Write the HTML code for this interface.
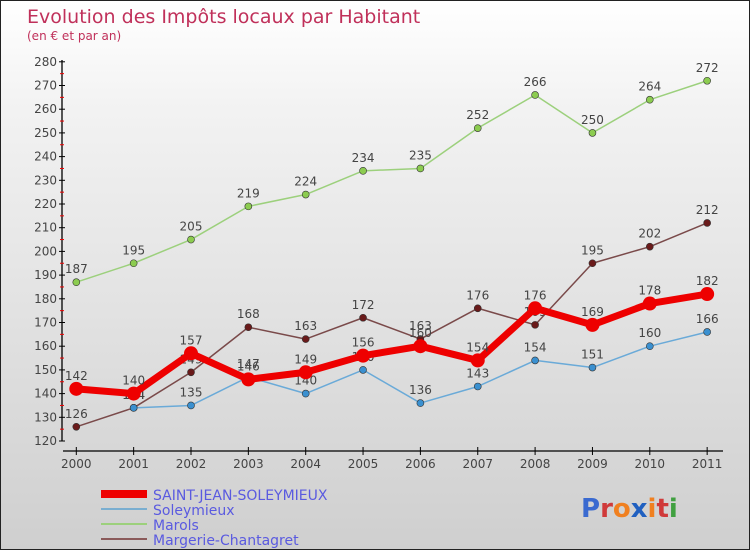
<!DOCTYPE html>
<html><head><meta charset="utf-8"><style>
body{margin:0}
#c{width:750px;height:550px;position:relative;overflow:hidden;box-sizing:border-box;border:1px solid #222;background:linear-gradient(#ffffff,#f2f2f2 20%,#cfcfcf);font-family:"DejaVu Sans","Liberation Sans",sans-serif}
svg text{font-family:"DejaVu Sans","Liberation Sans",sans-serif}
</style></head><body>
<div id="c">
<svg id="s" width="750" height="550">
<text x="26" y="22" font-size="19" fill="#c0305a">Evolution des Impôts locaux par Habitant</text>
<text x="26" y="39" font-size="12" fill="#c0305a">(en € et par an)</text>
<g id="axes"></g><g id="series"></g>
<g>
<line x1="100" y1="493" x2="146" y2="493" stroke="#e00" stroke-width="8"/>
<text x="152" y="499" font-size="14" fill="#5a5ae0">SAINT-JEAN-SOLEYMIEUX</text>
<line x1="100" y1="508" x2="146" y2="508" stroke="#7aaed0" stroke-width="2"/>
<text x="152" y="514" font-size="14" fill="#5a5ae0">Soleymieux</text>
<line x1="100" y1="523" x2="146" y2="523" stroke="#9cd07c" stroke-width="2"/>
<text x="152" y="529" font-size="14" fill="#5a5ae0">Marols</text>
<line x1="100" y1="538" x2="146" y2="538" stroke="#8a5a5a" stroke-width="2"/>
<text x="152" y="544" font-size="14" fill="#5a5ae0">Margerie-Chantagret</text>
</g>
<g font-size="26" font-weight="bold">
<text x="580" y="516"><tspan fill="#3a6ad0">P</tspan><tspan fill="#d03a3a">r</tspan><tspan fill="#f08020">o</tspan><tspan fill="#2060c0">x</tspan><tspan fill="#f08020">i</tspan><tspan fill="#d03a3a">t</tspan><tspan fill="#40a040">i</tspan></text>
</g>
</svg>
</div>
<script>
const years=[2000,2001,2002,2003,2004,2005,2006,2007,2008,2009,2010,2011];
const yTicks=[120,130,140,150,160,170,180,190,200,210,220,230,240,250,260,270,280];
const saintJean=[142,140,157,146,149,156,160,154,176,169,178,182];
const soleymieux=[null,134,135,147,140,150,136,143,154,151,160,166];
const marols=[187,195,205,219,224,234,235,252,266,250,264,272];
const margerie=[126,134,149,168,163,172,163,176,169,195,202,212];
const NS="http://www.w3.org/2000/svg";
function x(i){return 75.3+i*57.35;}
function y(v){return 440-(v-120)*2.37;}
function mk(t,a,p){const e=document.createElementNS(NS,t);for(const k in a)e.setAttribute(k,a[k]);p.appendChild(e);return e;}
const ax=document.getElementById('axes');
let e=mk('line',{x1:61,y1:59,x2:61,y2:440,stroke:'#000','stroke-width':1.3},ax);


e=mk('line',{x1:62,y1:450,x2:722,y2:450,stroke:'#000','stroke-width':1.3},ax);


yTicks.forEach((v,i)=>{
 mk('line',{x1:58,y1:y(v),x2:64,y2:y(v),stroke:'#000'},ax);
 if(i<yTicks.length-1)mk('line',{x1:59,y1:y(v+5),x2:63,y2:y(v+5),stroke:'#e00'},ax);
 const t=mk('text',{x:56,y:y(v)+4,'font-size':12,fill:'#444','text-anchor':'end'},ax);t.textContent=v;
 
 
});
years.forEach((yr,i)=>{
 mk('line',{x1:x(i),y1:446,x2:x(i),y2:454,stroke:'#000'},ax);
 const t=mk('text',{x:x(i),y:467,'font-size':12,fill:'#444','text-anchor':'middle'},ax);t.textContent=yr;
 
 
});
const sg=document.getElementById('series');
function draw(data,color,w,r,fill,name){
 const g=mk('g',{},sg);
 
 
 let d='';data.forEach((v,i)=>{if(v==null)return;d+=(d?'L':'M')+x(i)+','+y(v);});
 mk('path',{d:d,fill:'none',stroke:color,'stroke-width':w,'stroke-linejoin':'round'},g);
 data.forEach((v,i)=>{if(v==null)return;
  const c=mk('circle',{cx:x(i),cy:y(v),r:r,fill:fill,stroke:'#333','stroke-width':r>5?0:0.6},g);
  
  
  const t=mk('text',{x:x(i),y:y(v)-9,'font-size':12,fill:'#444','text-anchor':'middle'},g);t.textContent=v;
  
  
 });
}
draw(marols,'#9cd07c',1.5,3.5,'#8ccc50','series-marols');
draw(margerie,'#7a4a4a',1.5,3.5,'#6a1a1a','series-margerie');
draw(soleymieux,'#6aaad8',1.5,3.5,'#3a90d0','series-soleymieux');
draw(saintJean,'#ee0000',7,7,'#ee0000','series-saint-jean');
</script>
</body></html>
